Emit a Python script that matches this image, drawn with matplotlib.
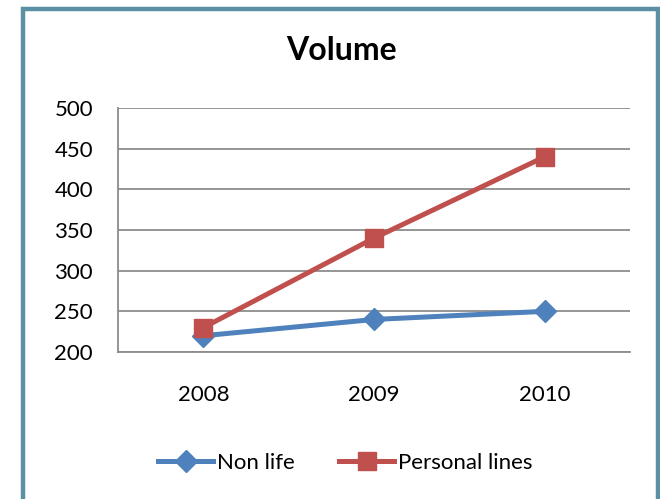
import matplotlib.pyplot as plt
from matplotlib.patches import Rectangle

years = ['2008', '2009', '2010']
non_life = [220, 240, 250]
personal_lines = [230, 340, 440]
y_ticks = [200, 250, 300, 350, 400, 450, 500]

plt.rcParams['font.family'] = ['Lato', 'DejaVu Sans']

fig = plt.figure(figsize=(6.6, 4.99), dpi=100)
ax = fig.add_axes([118 / 660, 1 - 352 / 499, 512 / 660, 244 / 499])

x = range(len(years))
ax.plot(x, non_life, color='#4F81BD', lw=3.6, marker='D', ms=11,
        label='Non life', zorder=3)
ax.plot(x, personal_lines, color='#C0504D', lw=3.6, marker='s', ms=13,
        label='Personal lines', zorder=3)

ax.set_xlim(-0.5, 2.5)
ax.set_ylim(200, 500)
ax.set_xticks(list(x))
ax.set_xticklabels(years)
ax.set_yticks(y_ticks)
ax.tick_params(axis='both', length=0, labelsize=16, colors='black')
ax.tick_params(axis='x', pad=24)
ax.tick_params(axis='y', pad=18)
ax.grid(axis='y', color='#8c8c8c', lw=1.3)
ax.set_axisbelow(True)
for s in ['top', 'right']:
    ax.spines[s].set_visible(False)
for s in ['left', 'bottom']:
    ax.spines[s].set_color('#8c8c8c')
    ax.spines[s].set_linewidth(1.3)

fig.text(341 / 660, 1 - 51 / 499, 'Volume', ha='center', va='center',
         fontsize=23, fontweight='bold')

fig.legend(loc='center', bbox_to_anchor=(345 / 660, 1 - 463 / 499), ncol=2,
           frameon=False, fontsize=16, handlelength=2.5, handletextpad=0.15,
           columnspacing=2.0)

# outer chart border
fig.patches.append(Rectangle((22.5 / 660, -0.05), 635.5 / 660, 1.05 - 8.5 / 499,
                             transform=fig.transFigure, fill=False,
                             edgecolor='#5B8FA3', lw=3.2))

fig.savefig('out.png', dpi=100)
